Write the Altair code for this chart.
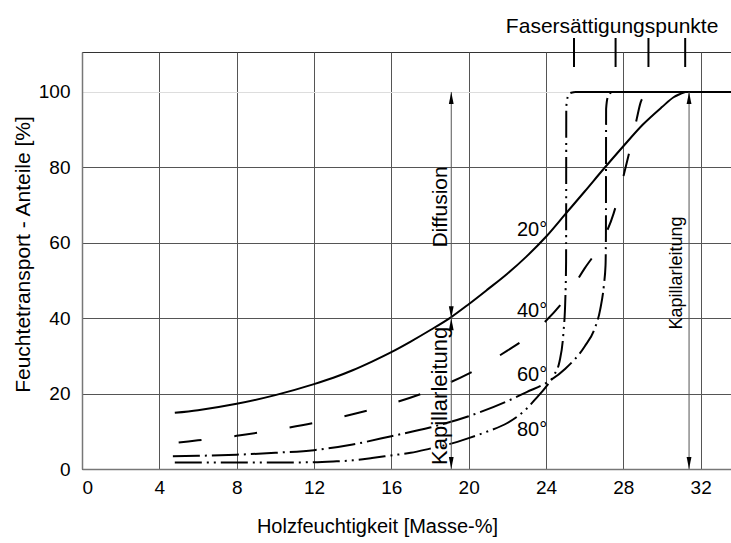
import altair as alt
import pandas as pd

# ---------------- data ----------------
# 20 °C (solid)
x20 = [4.8, 6, 8, 10, 12, 13, 14, 15, 16, 17, 18, 19.1, 20, 21, 22, 23, 24, 25, 26, 27, 28, 29, 30, 30.6, 31.2]
y20 = [14.9, 15.6, 17.3, 19.6, 22.5, 24.2, 26.2, 28.5, 31.0, 33.8, 36.8, 40.3, 43.7, 47.7, 51.8, 56.4, 61.6, 67.6, 73.6, 79.7, 85.6, 91.3, 96.0, 98.6, 100]
# 40 °C (dashed)
x40 = [5.0, 6, 8, 10, 12, 14, 16, 18, 20, 22, 23, 24, 25, 26, 26.8, 27.5, 28.0, 28.4, 28.7, 28.9, 29.1, 29.5]
y40 = [7.0, 7.6, 8.8, 10.4, 12.2, 14.5, 17.3, 20.8, 25.3, 31.4, 34.8, 39.3, 45.2, 53.2, 59.4, 67.8, 77.5, 86.0, 93.0, 97.3, 99.0, 100]
# 60 °C (dash-dot)
x60 = [4.7, 6, 8, 10, 12, 14, 16, 18, 20, 22, 23, 24, 25, 26, 26.5, 26.8, 27.0, 27.08, 27.1, 27.11, 27.2, 27.35, 27.55]
y60 = [3.4, 3.5, 3.8, 4.3, 5.0, 6.5, 8.7, 11.0, 14.0, 18.0, 20.4, 22.8, 26.6, 32.5, 37.0, 42.2, 49.0, 54.0, 62.0, 95.5, 98.7, 99.8, 100]
# 80 °C (dash-dot-dot)
x80 = [4.8, 6, 8, 10, 12, 13, 14, 15, 16, 17, 18, 19, 20, 21, 22, 23, 23.5, 24, 24.4, 24.7, 24.9, 25.0, 25.04, 25.05, 25.12, 25.25, 25.5]
y80 = [1.7, 1.7, 1.7, 1.7, 1.8, 2.0, 2.3, 2.9, 3.6, 4.3, 5.4, 6.6, 8.2, 10.0, 12.2, 16.0, 18.8, 21.8, 24.8, 28.5, 36.0, 45.0, 55.0, 96.0, 98.6, 99.7, 100]
# common plateau at 100 %
x_plateau = [25.5, 33.6]
y_plateau = [100, 100]

# fibre saturation points (top marks)
fsp = [25.45, 27.6, 29.3, 31.2]

# double arrows
arrow_x = [19.1, 19.1, 31.4]
arrow_lo = [0, 40, 0]
arrow_hi = [40, 100, 100]

x_ticks = [0, 4, 8, 12, 16, 20, 24, 28, 32]
y_ticks = [0, 20, 40, 60, 80, 100]

deg_labels = ["20°", "40°", "60°", "80°"]
deg_x = [23.28, 23.28, 23.28, 23.28]
deg_y = [63.4, 41.9, 24.9, 10.3]

X_DOM = [0, 33.57]
Y_DOM = [0, 110.6]
FONT = "Liberation Sans"

# ---------------- build tables ----------------
def series(xs, ys):
    return pd.DataFrame({"x": xs, "y": ys})

xs = alt.Scale(domain=X_DOM, nice=False, zero=False)
ys = alt.Scale(domain=Y_DOM, nice=False, zero=False)

X = alt.X("x:Q", scale=xs, axis=alt.Axis(
    values=x_ticks, title="Holzfeuchtigkeit [Masse-%]", grid=True, gridColor="#555",
    gridWidth=1, ticks=False, labelFontSize=19, labelPadding=9, labelColor="black",
    domainColor="#777", domainWidth=1.5, titleFontSize=20, titleFontWeight="normal",
    titleColor="black", titleX=295, titleY=57, titleBaseline="middle",
    labelFont=FONT, titleFont=FONT))
Y = alt.Y("y:Q", scale=ys, axis=alt.Axis(
    values=y_ticks, title="Feuchtetransport - Anteile [%]", grid=True,
    gridColor={"condition": {"test": "datum.value === 100", "value": "#dddddd"}, "value": "#555"},
    gridWidth=1, ticks=False, labelFontSize=19, labelPadding=12, labelColor="black",
    domainColor="#777", domainWidth=1.5, titleFontSize=21, titleFontWeight="normal",
    titleColor="black", titleX=-59, titleY=202, titleAngle=270, titleBaseline="middle",
    labelFont=FONT, titleFont=FONT))

def curve(df, dash):
    kw = dict(color="black", strokeWidth=2, interpolate="monotone", strokeCap="butt")
    if dash:
        kw["strokeDash"] = dash
    return alt.Chart(df).mark_line(**kw).encode(x=X, y=Y)

l20 = curve(series(x20, y20), None)
l40 = curve(series(x40, y40), [23, 33])
l60 = curve(series(x60, y60), [27, 5, 2, 5])
l80 = curve(series(x80, y80), [27, 5, 2, 5, 2, 5])
lpl = curve(series(x_plateau, y_plateau), None)

# top marks (Fasersättigungspunkte)
fsp_df = pd.DataFrame({"x": fsp})
fsp_rules = alt.Chart(fsp_df).mark_rule(color="black", strokeWidth=2).encode(
    x=X, y=alt.value(-14), y2=alt.value(15))

# arrows
arr_df = pd.DataFrame({"x": arrow_x, "y": arrow_lo, "y2": arrow_hi})
arr_rules = alt.Chart(arr_df).mark_rule(color="#555", strokeWidth=1).encode(
    x=X, y=Y, y2="y2:Q")

UP = "M0,0L-0.4,2L0.4,2Z"
DOWN = "M0,0L-0.4,-2L0.4,-2Z"
heads_up = alt.Chart(pd.DataFrame({"x": arrow_x, "y": arrow_hi})).mark_point(
    shape=UP, filled=True, color="black", size=144, opacity=1).encode(x=X, y=Y)
heads_dn = alt.Chart(pd.DataFrame({"x": arrow_x, "y": arrow_lo})).mark_point(
    shape=DOWN, filled=True, color="black", size=144, opacity=1).encode(x=X, y=Y)

# texts
deg_df = pd.DataFrame({"x": deg_x, "y": deg_y, "t": deg_labels})
deg_text = alt.Chart(deg_df).mark_text(font=FONT, fontSize=20, color="black",
                                       align="center", baseline="middle").encode(
    x=X, y=Y, text="t:N")

diff_text = alt.Chart(pd.DataFrame({"x": [18.55], "y": [69.5], "t": ["Diffusion"]})).mark_text(
    font=FONT, fontSize=21, angle=270, color="black", align="center", baseline="middle").encode(
    x=X, y=Y, text="t:N")
kap1_text = alt.Chart(pd.DataFrame({"x": [18.5], "y": [19.4], "t": ["Kapillarleitung"]})).mark_text(
    font=FONT, fontSize=22, angle=270, color="black", align="center", baseline="middle").encode(
    x=X, y=Y, text="t:N")
kap2_text = alt.Chart(pd.DataFrame({"x": [30.8], "y": [52.0], "t": ["Kapillarleitung"]})).mark_text(
    font=FONT, fontSize=18, angle=270, color="black", align="center", baseline="middle").encode(
    x=X, y=Y, text="t:N")
fsp_text = alt.Chart(pd.DataFrame({"x": [27.42], "t": ["Fasersättigungspunkte"]})).mark_text(
    font=FONT, fontSize=21, color="black", align="center", baseline="alphabetic").encode(
    x=X, y=alt.value(-19), text="t:N")

chart = alt.layer(
    l20, l40, l60, l80, lpl, fsp_rules, arr_rules, heads_up, heads_dn,
    deg_text, diff_text, kap1_text, kap2_text, fsp_text
).properties(
    width=649, height=417,
    autosize=alt.AutoSizeParams(type="none"),
    padding={"left": 82, "top": 52, "right": 0, "bottom": 74},
    background="white",
).configure_view(stroke="#333", strokeWidth=1)

chart.save("out.html", embed_options={"renderer": "svg", "actions": False})
